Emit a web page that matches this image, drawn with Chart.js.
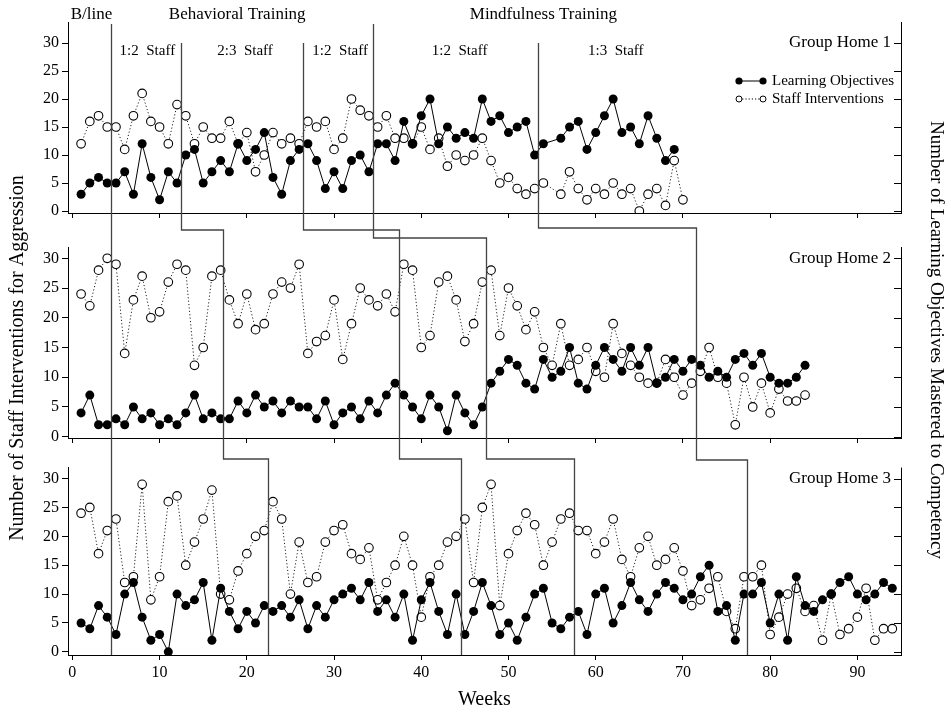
<!DOCTYPE html>
<html>
<head>
<meta charset="utf-8">
<script src="https://cdn.jsdelivr.net/npm/chart.js@4.4.0/dist/chart.umd.min.js"></script>
<style>
  body { margin: 0; background: #fff; }
  #wrap { position: relative; width: 951px; height: 712px; }
  canvas { position: absolute; left: 0; }
</style>
</head>
<body>
<div id="wrap">
  <canvas id="c1" width="951" height="230" style="top:0px"></canvas>
  <canvas id="c2" width="951" height="226" style="top:232px"></canvas>
  <canvas id="c3" width="951" height="257" style="top:455px"></canvas>
  <canvas id="ov" width="951" height="712" style="top:0px;pointer-events:none"></canvas>
</div>
<script>
const FONT = "'Liberation Serif', 'DejaVu Serif', serif";

// values start at week 1, null = no session that week
const staff1 = [12,16,17,15,15,11,17,21,16,15,12,19,
  17,12,15,13,13,16,12,14,7,10,14,12,13,12,
  16,15,16,11,13,20,18,17,
  15,17,13,13,12,15,11,13,8,10,9,10,13,9,5,6,4,3,4,
  5,null,3,7,4,2,4,3,5,3,4,0,3,4,1,9,2];
const learn1 = [3,5,6,5,5,7,3,12,6,2,7,5,
  10,11,5,7,9,7,12,9,11,14,6,3,9,11,
  12,9,4,7,4,9,10,7,
  12,12,9,16,12,17,20,12,15,13,14,13,20,16,17,14,15,16,10,
  12,null,13,15,16,11,14,17,20,14,15,12,17,13,9,11];

const staff2 = [24,22,28,30,29,14,23,27,20,21,26,29,28,12,15,27,28,
  23,19,24,18,19,24,26,25,29,14,16,17,23,13,19,25,23,22,24,21,
  29,28,15,17,26,27,23,16,19,26,
  28,17,25,22,18,21,15,12,19,12,13,15,11,10,19,14,12,10,9,9,13,10,7,9,
  11,15,10,9,2,10,5,9,4,8,6,6,7];
const learn2 = [4,7,2,2,3,2,5,3,4,2,3,2,4,7,3,4,3,
  3,6,4,7,5,6,4,6,5,5,3,6,2,4,5,3,6,4,7,9,
  7,5,3,7,5,1,7,4,2,5,
  9,11,13,12,9,8,13,10,11,15,9,8,12,15,13,11,15,12,15,9,10,13,11,13,
  12,10,11,10,13,14,12,14,10,9,9,10,12];

const staff3 = [24,25,17,21,23,12,13,29,9,13,26,27,15,19,23,28,10,9,14,17,20,21,
  26,23,10,19,12,13,19,21,22,17,16,18,9,12,15,20,15,6,13,15,19,20,
  23,12,25,29,8,17,21,24,22,15,19,23,24,
  21,21,17,19,23,16,13,18,20,15,16,18,14,8,9,11,13,7,4,13,
  13,15,3,6,10,11,7,8,2,10,3,4,6,11,2,4,4];
const learn3 = [5,4,8,6,3,10,12,6,2,3,0,10,8,9,12,2,11,7,4,7,5,8,
  7,8,6,9,4,8,6,9,10,11,9,12,7,9,6,10,2,9,12,7,3,10,
  3,7,12,8,3,5,2,6,10,11,5,4,6,
  7,3,10,11,5,8,12,9,7,10,12,11,9,10,13,15,7,8,2,10,
  10,12,5,10,2,13,8,7,9,10,12,13,10,9,10,12,11];

// phase change points (weeks) per group home
const phases1 = [4.47, 12.42, 26.45, 34.45, 53.4];
const phases2 = [4.47, 17.3, 37.5, 47.4, 71.5];
const phases3 = [4.47, 22.4, 44.5, 57.5, 77.4];
const mainPhase = [true, false, false, true, false];

const yTicks = [0, 5, 10, 15, 20, 25, 30];
const xTicks = [0, 10, 20, 30, 40, 50, 60, 70, 80, 90];
const homeNames = ['Group Home 1', 'Group Home 2', 'Group Home 3'];

const topLabels = [
  { text: 'B/line', week: 2.2, row: 0 },
  { text: 'Behavioral Training', week: 18.9, row: 0 },
  { text: 'Mindfulness Training', week: 54.0, row: 0 },
  { text: '1:2  Staff', week: 8.6, row: 1 },
  { text: '2:3  Staff', week: 19.8, row: 1 },
  { text: '1:2  Staff', week: 30.7, row: 1 },
  { text: '1:2  Staff', week: 44.4, row: 1 },
  { text: '1:3  Staff', week: 62.3, row: 1 }
];

function toPoints(vals) {
  return vals.map((v, i) => ({ x: i + 1, y: v })).filter(p => p.y !== null);
}

const panels = [
  { id: 'c1', top: 0,   padTop: 22, axisH: 17, yMin: -0.357, yMax: 33.75, staff: staff1, learn: learn1, labels: false },
  { id: 'c2', top: 232, padTop: 15, axisH: 20, yMin: -0.22,  yMax: 31.9,  staff: staff2, learn: learn2, labels: false },
  { id: 'c3', top: 455, padTop: 7,  axisH: 57, yMin: -0.55,  yMax: 31.9,  staff: staff3, learn: learn3, labels: true }
];

const framePlugin = {
  id: 'frame',
  afterDraw(chart, args, opts) {
    const { ctx, chartArea: a, scales } = chart;
    ctx.save();
    ctx.strokeStyle = '#000';
    ctx.lineWidth = 1;
    ctx.beginPath();
    ctx.moveTo(a.right + 0.5, a.top);
    ctx.lineTo(a.right + 0.5, a.bottom);
    yTicks.forEach(v => {
      const y = Math.round(scales.y.getPixelForValue(v)) + 0.5;
      ctx.moveTo(a.right, y);
      ctx.lineTo(a.right - 7, y);
    });
    ctx.stroke();
    ctx.fillStyle = '#000';
    ctx.font = '17px ' + FONT;
    ctx.textAlign = 'right';
    ctx.textBaseline = 'middle';
    ctx.fillText(opts.name, a.right - 10, scales.y.getPixelForValue(30));

    if (opts.legend) {
      ctx.font = '15px ' + FONT;
      ctx.textAlign = 'left';
      const rows = [{ y: 81, txt: 'Learning Objectives', filled: true },
                    { y: 99, txt: 'Staff Interventions', filled: false }];
      rows.forEach(r => {
        ctx.beginPath();
        ctx.setLineDash(r.filled ? [] : [1.2, 2]);
        ctx.moveTo(739, r.y); ctx.lineTo(763, r.y);
        ctx.stroke();
        ctx.setLineDash([]);
        [739, 763].forEach(x => {
          ctx.beginPath();
          ctx.arc(x, r.y, r.filled ? 3.6 : 3, 0, Math.PI * 2);
          if (r.filled) { ctx.fill(); } else { ctx.fillStyle = '#fff'; ctx.fill(); ctx.fillStyle = '#000'; ctx.stroke(); }
        });
        ctx.fillText(r.txt, 772, r.y);
      });
      ctx.textAlign = 'center';
      topLabels.forEach(l => {
        ctx.font = (l.row === 0 ? '17px ' : '15px ') + FONT;
        ctx.fillText(l.text, scales.x.getPixelForValue(l.week), l.row === 0 ? 15 : 51);
      });
    }
    ctx.restore();
  }
};

const charts = panels.map((p, idx) => new Chart(document.getElementById(p.id), {
  type: 'line',
  data: {
    datasets: [
      {
        label: 'Learning Objectives',
        data: toPoints(p.learn),
        borderColor: '#000',
        borderWidth: 1,
        backgroundColor: '#000',
        pointRadius: 4.5,
        pointBackgroundColor: '#000',
        pointBorderColor: '#000',
        pointBorderWidth: 0,
        tension: 0
      },
      {
        label: 'Staff Interventions',
        data: toPoints(p.staff),
        borderColor: '#222',
        borderWidth: 1,
        borderDash: [1.2, 2.2],
        pointRadius: 4.3,
        pointBackgroundColor: '#fff',
        pointBorderColor: '#000',
        pointBorderWidth: 1.1,
        tension: 0
      }
    ]
  },
  options: {
    responsive: false,
    animation: false,
    devicePixelRatio: 1,
    layout: { padding: { top: p.padTop, right: 50, bottom: 0, left: 0 } },
    plugins: {
      legend: { display: false },
      tooltip: { enabled: false },
      frame: { name: homeNames[idx], legend: idx === 0 }
    },
    scales: {
      x: {
        type: 'linear',
        min: -0.5,
        max: 95,
        afterFit: s => { s.height = p.axisH; },
        afterBuildTicks: s => { s.ticks = xTicks.map(v => ({ value: v })); },
        ticks: {
          display: p.labels,
          color: '#000',
          font: { family: FONT, size: 16 },
          padding: 3
        },
        grid: { drawOnChartArea: false, tickLength: 5, color: '#000' },
        border: { color: '#000', width: 1 },
        title: {
          display: p.labels,
          text: 'Weeks',
          color: '#000',
          font: { family: FONT, size: 20 },
          padding: { top: 0, bottom: 0 }
        }
      },
      y: {
        min: p.yMin,
        max: p.yMax,
        afterFit: s => { s.width = 68; },
        afterBuildTicks: s => { s.ticks = yTicks.map(v => ({ value: v })); },
        ticks: {
          color: '#000',
          font: { family: FONT, size: 16 },
          padding: 3
        },
        grid: { drawOnChartArea: false, tickLength: 6, color: '#000' },
        border: { color: '#000', width: 1 }
      }
    }
  },
  plugins: [framePlugin]
}));

// phase change lines that step down across the three panels
const ov = document.getElementById('ov').getContext('2d');
const phaseSets = [phases1, phases2, phases3];
const gapY1 = [0, 230, 230, 238, 228];
const gapY2 = [0, 459, 459, 459, 460];
ov.strokeStyle = '#444';
ov.lineWidth = 1.3;
mainPhase.forEach((isMain, k) => {
  const xs = charts.map((c, i) => Math.round(c.scales.x.getPixelForValue(phaseSets[i][k])) + 0.5);
  const a1 = charts[0].chartArea;
  const y0 = isMain ? a1.top + 2 : charts[0].scales.y.getPixelForValue(30);
  const yEnd = panels[2].top + charts[2].chartArea.bottom;
  ov.beginPath();
  ov.moveTo(xs[0], y0);
  if (k === 0) {
    ov.lineTo(xs[0], yEnd);
  } else {
    ov.lineTo(xs[0], gapY1[k]);
    ov.lineTo(xs[1], gapY1[k]);
    ov.lineTo(xs[1], gapY2[k]);
    ov.lineTo(xs[2], gapY2[k]);
    ov.lineTo(xs[2], yEnd);
  }
  ov.stroke();
});

// axis titles shared by all panels
ov.fillStyle = '#000';
ov.textAlign = 'center';
ov.textBaseline = 'middle';
ov.font = '20px ' + FONT;
ov.save();
ov.translate(18, 358);
ov.rotate(-Math.PI / 2);
ov.fillText('Number of Staff Interventions for Aggression', 0, 0);
ov.restore();
ov.font = '19px ' + FONT;
ov.save();
ov.translate(936, 340);
ov.rotate(Math.PI / 2);
ov.fillText('Number of Learning Objectives Mastered to Competency', 0, 0);
ov.restore();
</script>
</body>
</html>
